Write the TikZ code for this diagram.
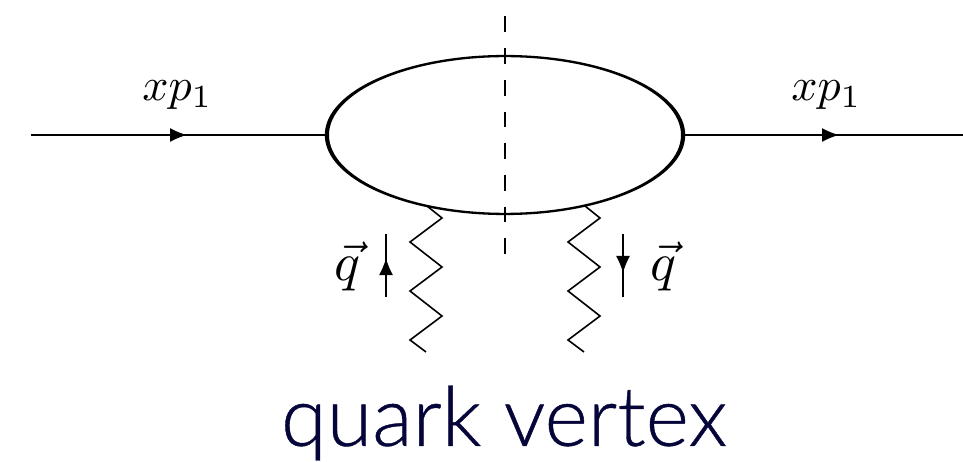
\documentclass[tikz,border=0pt]{standalone}
\usepackage{fontspec}
\usetikzlibrary{shapes.geometric,arrows.meta}
\newfontfamily\captionfont[FakeBold=0.5]{Lato Light}
\definecolor{captionink}{HTML}{05053A}
\tikzset{
  x=1pt,y=-1pt,
  line/.style={draw=black,line width=1.6pt},
  blob/.style={ellipse,minimum width=356pt,minimum height=158pt,inner sep=0pt},
  tipmark/.style={-{Latex[length=17pt,width=14pt]},line width=1.6pt},
  labeltext/.style={inner sep=0pt,outer sep=0pt},
}
\begin{document}
\begin{tikzpicture}
\useasboundingbox (0,0) rectangle (963,462);
\node[blob] (b) at (505,135) {};
\fill[black,even odd rule] (b.center) ellipse [x radius=180.2pt,y radius=80.1pt]
      (b.center) ellipse [x radius=176pt,y radius=77.8pt];
\coordinate (l) at (31,135);
\coordinate (r) at (963,135);
\coordinate (la) at (187,135);
\coordinate (ra) at (839,135);
\draw[line] (l) -- (b.west);
\draw[line] (b.east) -- (r);
\draw[tipmark] (l) -- (la);
\draw[tipmark] (b.east) -- (ra);
\coordinate (c1) at (505,16.5);
\coordinate (c2) at (505,254);
\draw[line,dash pattern=on 15.8pt off 15.9pt] (c1) -- (c2);
\coordinate (g1) at (427,206);
\coordinate (g2) at (585,206);
\draw[line,line join=miter] (g1) -- (442,218) -- (410,242) -- (442,267) -- (410,291) -- (442,316) -- (410,340) -- (426,352);
\draw[line,line join=miter] (g2) -- (600,218) -- (568,242) -- (600,267) -- (568,291) -- (600,316) -- (568,340) -- (584,352);
\coordinate (a1) at (386,297); \coordinate (a2) at (386,234); \coordinate (a1t) at (386,258);
\coordinate (b1) at (623,234); \coordinate (b2) at (623,297); \coordinate (b1t) at (623,273);
\draw[line] (a1) -- (a2);
\draw[line] (b1) -- (b2);
\draw[tipmark] (a1) -- (a1t);
\draw[tipmark] (b1) -- (b1t);
\node[labeltext] (t1) at (177.5,95) {\scalebox{4.6}{$xp_1$}};
\node[labeltext] (t2) at (826.5,95) {\scalebox{4.6}{$xp_1$}};
\node[labeltext] (q1) at (347.5,266.5) {\scalebox{5.4}{$\vec q$}};
\node[labeltext] (q2) at (663,266.5) {\scalebox{5.4}{$\vec q$}};
\node[labeltext,text=captionink] (cap) at (504,423) {\resizebox{446pt}{!}{\captionfont quark vertex}};
\end{tikzpicture}
\end{document}
